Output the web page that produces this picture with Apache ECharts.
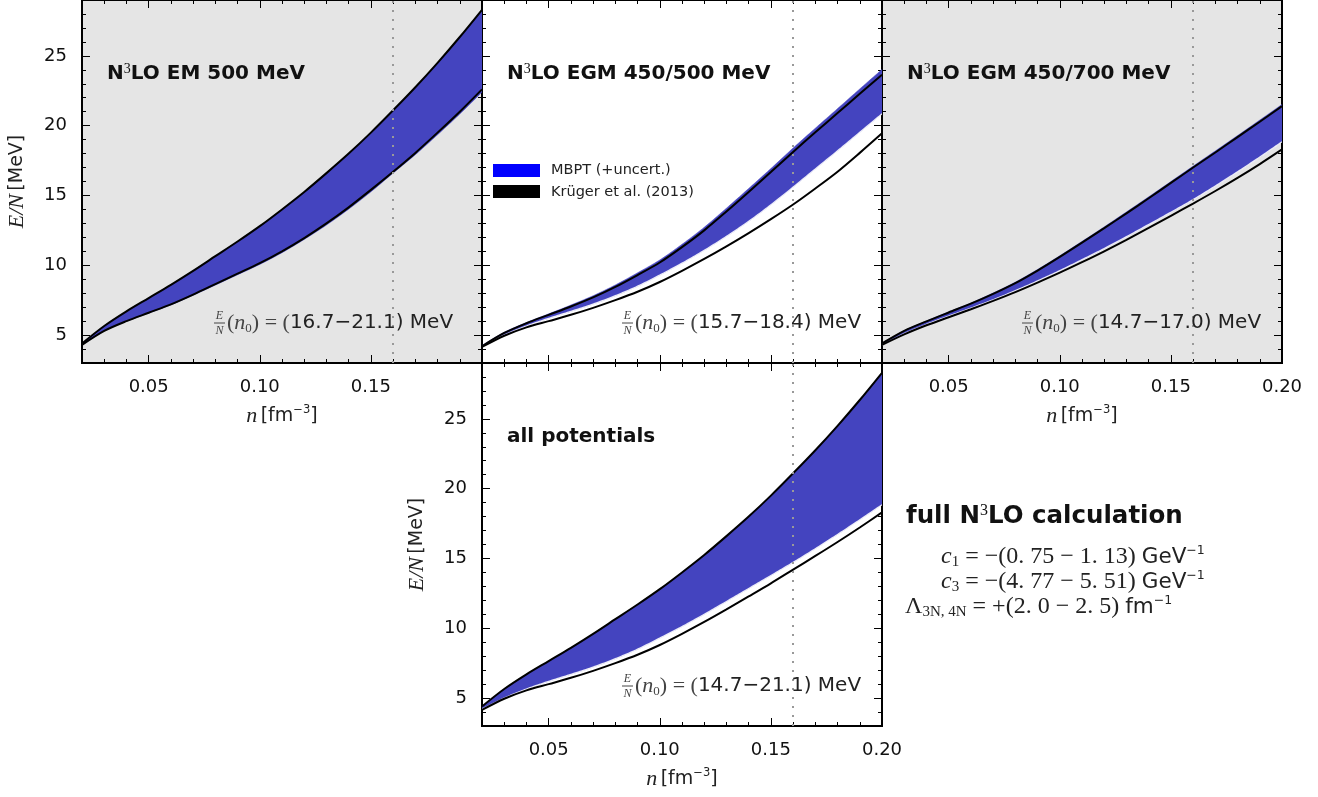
<!DOCTYPE html>
<html><head><meta charset="utf-8">
<script src="https://cdn.jsdelivr.net/npm/echarts@6/dist/echarts.min.js"></script>
<style>html,body{margin:0;padding:0;background:#fff}#c{width:1318px;height:797px}</style>
</head><body><div id="c"></div>
<script>
// ---------------- data ----------------
const density = [0.02,0.03,0.04,0.05,0.06,0.07,0.08,0.09,0.10,0.11,0.12,0.13,0.14,0.15,0.16,0.17,0.18,0.19,0.20];

// N3LO EM 500 MeV
const em500_kUp    = [4.4,5.65,6.7,7.65,8.6,9.6,10.65,11.7,12.8,14.0,15.25,16.6,18.0,19.5,21.1,22.75,24.5,26.35,28.3];
const em500_kLow   = [4.3,5.3,6.0,6.6,7.2,7.9,8.65,9.4,10.15,11.0,11.95,13.0,14.15,15.4,16.7,18.05,19.5,21.0,22.6];
const em500_mbUp   = [4.4,5.65,6.7,7.65,8.6,9.6,10.65,11.7,12.8,14.0,15.25,16.6,18.0,19.5,21.1,22.75,24.5,26.35,28.3];
const em500_mbLow  = [4.3,5.3,5.98,6.57,7.16,7.85,8.58,9.32,10.06,10.9,11.85,12.88,14.02,15.26,16.6,17.92,19.35,20.83,22.4];

// N3LO EGM 450/500 MeV
const egm500_kUp   = [4.2,5.15,5.85,6.45,7.05,7.7,8.45,9.3,10.2,11.3,12.5,13.85,15.25,16.68,18.12,19.52,20.9,22.28,23.65];
const egm500_kLow  = [4.15,4.95,5.55,6.0,6.45,6.95,7.5,8.1,8.8,9.6,10.45,11.35,12.3,13.3,14.35,15.5,16.7,18.05,19.45];
const egm500_mbUp  = [4.25,5.2,5.9,6.52,7.15,7.82,8.59,9.46,10.38,11.5,12.72,14.09,15.5,16.93,18.4,19.82,21.22,22.63,24.03];
const egm500_mbLow = [4.2,5.0,5.65,6.2,6.7,7.22,7.82,8.5,9.3,10.15,11.07,12.07,13.15,14.33,15.6,16.9,18.2,19.52,20.85];

// N3LO EGM 450/700 MeV
const egm700_kUp   = [4.4,5.3,5.98,6.62,7.25,7.95,8.72,9.62,10.6,11.62,12.66,13.72,14.8,15.9,17.0,18.08,19.18,20.28,21.4];
const egm700_kLow  = [4.3,5.05,5.7,6.28,6.85,7.45,8.08,8.76,9.47,10.22,11.0,11.82,12.67,13.54,14.42,15.32,16.26,17.25,18.3];
const egm700_mbUp  = [4.4,5.32,6.01,6.66,7.3,8.01,8.79,9.7,10.68,11.71,12.75,13.82,14.9,16.0,17.1,18.19,19.29,20.4,21.52];
const egm700_mbLow = [4.3,5.1,5.77,6.36,6.93,7.53,8.18,8.88,9.62,10.4,11.2,12.05,12.92,13.8,14.7,15.68,16.7,17.75,18.85];

// all potentials
const all_kUp      = [4.4,5.65,6.7,7.65,8.6,9.6,10.65,11.7,12.8,14.0,15.25,16.6,18.0,19.5,21.1,22.75,24.5,26.35,28.3];
const all_kLow     = [4.15,4.95,5.55,6.0,6.45,6.95,7.5,8.1,8.8,9.6,10.45,11.35,12.28,13.22,14.2,15.18,16.18,17.22,18.3];
const all_mbUp     = [4.4,5.65,6.7,7.65,8.6,9.6,10.65,11.7,12.8,14.0,15.25,16.6,18.0,19.5,21.1,22.75,24.5,26.35,28.3];
const all_mbLow    = [4.2,5.0,5.65,6.2,6.7,7.22,7.82,8.5,9.3,10.12,11.0,11.92,12.85,13.78,14.72,15.7,16.72,17.77,18.85];

const saturationDensity = 0.16;
const xMajorTicks = [0.05,0.10,0.15,0.20];
const xMinorTicks = [0.03,0.04,0.06,0.07,0.08,0.09,0.11,0.12,0.13,0.14,0.16,0.17,0.18,0.19];
const yMajorTicks = [5,10,15,20,25];
const yMinorTicks = [4,6,7,8,9,11,12,13,14,16,17,18,19,21,22,23,24,26,27,28];

const panelTitles = ['N|3|LO EM 500 MeV','N|3|LO EGM 450/500 MeV','N|3|LO EGM 450/700 MeV','all potentials'];
const panelRanges = ['16.7\u221221.1','15.7\u221218.4','14.7\u221217.0','14.7\u221221.1'];
const legendNames = ['MBPT (+uncert.)','Kr\u00fcger et al. (2013)'];

// ---------------- layout ----------------
const BAND = '#4444bf';
const SMOOTH = 0.3;
const panels = [
  {left:82,  top:0,   bg:'#e5e5e5', xLab:[0.05,0.10,0.15], yLab:true,  xName:true,  yName:true,
   kUp:em500_kUp, kLow:em500_kLow, mbUp:em500_mbUp, mbLow:em500_mbLow, edge:false},
  {left:482, top:0,   bg:null,      xLab:null,              yLab:false, xName:false, yName:false,
   kUp:egm500_kUp, kLow:egm500_kLow, mbUp:egm500_mbUp, mbLow:egm500_mbLow, edge:true},
  {left:882, top:0,   bg:'#e5e5e5', xLab:[0.05,0.10,0.15,0.20], yLab:false, xName:true, yName:false,
   kUp:egm700_kUp, kLow:egm700_kLow, mbUp:egm700_mbUp, mbLow:egm700_mbLow, edge:true},
  {left:482, top:363, bg:null,      xLab:[0.05,0.10,0.15,0.20], yLab:true, xName:true, yName:true,
   kUp:all_kUp, kLow:all_kLow, mbUp:all_mbUp, mbLow:all_mbLow, edge:true}
];
const W = 400, H = 363;
const SANS = 'DejaVu Sans', SERIF = 'Liberation Serif';

const grids = [], xAxes = [], yAxes = [], series = [], graphics = [];

// same cubic smoothing scheme as the line series, sampled to pixel points
function smoothPath(pts, s) {
  const n = pts.length, cpOut = [], cpIn = [];
  for (let i = 0; i < n; i++) {
    const p = pts[i], prev = pts[Math.max(i-1,0)], next = pts[Math.min(i+1,n-1)];
    if (i === 0 || i === n-1) { cpOut.push(p); cpIn.push(p); continue; }
    const vx = next[0]-prev[0], vy = next[1]-prev[1];
    const lp = Math.hypot(p[0]-prev[0], p[1]-prev[1]), ln = Math.hypot(next[0]-p[0], next[1]-p[1]);
    const r = (lp+ln) > 0 ? ln/(lp+ln) : 0.5;
    cpOut.push([p[0]+vx*s*r, p[1]+vy*s*r]);
    cpIn.push([p[0]-vx*s*(1-r), p[1]-vy*s*(1-r)]);
  }
  const out = [pts[0]];
  for (let i = 0; i < n-1; i++) {
    const a = pts[i], c1 = cpOut[i], c2 = cpIn[i+1], b = pts[i+1];
    for (let k = 1; k <= 12; k++) {
      const t = k/12, u = 1-t;
      out.push([u*u*u*a[0]+3*u*u*t*c1[0]+3*u*t*t*c2[0]+t*t*t*b[0],
                u*u*u*a[1]+3*u*u*t*c1[1]+3*u*t*t*c2[1]+t*t*t*b[1]]);
    }
  }
  return out;
}

function xAxis(gi, pos, ticks, len, labels, withName) {
  const a = {type:'value', gridIndex:gi, min:0.02, max:0.20, position:pos,
    axisLine:{show:false}, splitLine:{show:false},
    axisTick:{show:true, inside:true, length:len, customValues:ticks, lineStyle:{color:'#000', width:1}},
    axisLabel: labels ? {show:true, customValues:labels, formatter:v=>v.toFixed(2), margin:15,
      fontSize:18, fontFamily:SANS, color:'#111'} : {show:false}};
  if (withName) {
    a.name = '{i|n} {t|[fm}{s|\u22123}{t|]}';
    a.nameLocation = 'middle'; a.nameGap = 41;
    a.nameTextStyle = {rich:{
      i:{fontFamily:SERIF, fontStyle:'italic', fontSize:22, color:'#222', lineHeight:24},
      t:{fontFamily:SANS, fontSize:19, color:'#222', lineHeight:24},
      s:{fontFamily:SANS, fontSize:11.5, color:'#222', verticalAlign:'top', lineHeight:12}}};
  }
  return a;
}
function yAxis(gi, pos, ticks, len, labels, withName) {
  const a = {type:'value', gridIndex:gi, min:3, max:29, position:pos,
    axisLine:{show:false}, splitLine:{show:false},
    axisTick:{show:true, inside:true, length:len, customValues:ticks, lineStyle:{color:'#000', width:1}},
    axisLabel: labels ? {show:true, customValues:labels, margin:15,
      fontSize:18, fontFamily:SANS, color:'#111'} : {show:false}};
  if (withName) {
    a.name = '{i|E/N} {t|[MeV]}';
    a.nameLocation = 'middle'; a.nameGap = 54;
    a.nameTextStyle = {rich:{
      i:{fontFamily:SERIF, fontStyle:'italic', fontSize:22, color:'#222'},
      t:{fontFamily:SANS, fontSize:19, color:'#222'}}};
  }
  return a;
}

panels.forEach((p, gi) => {
  grids.push({left:p.left, top:p.top, width:W, height:H, show:true,
    backgroundColor: p.bg || '#ffffff', borderColor:'#000', borderWidth:2, containLabel:false});
  const xi = xAxes.length, yi = yAxes.length;
  xAxes.push(xAxis(gi,'bottom',xMajorTicks,8,p.xLab,p.xName));
  xAxes.push(xAxis(gi,'bottom',xMinorTicks,4,null,false));
  xAxes.push(xAxis(gi,'top',xMajorTicks,8,null,false));
  xAxes.push(xAxis(gi,'top',xMinorTicks,4,null,false));
  yAxes.push(yAxis(gi,'left',yMajorTicks,8,p.yLab?yMajorTicks:null,p.yName));
  yAxes.push(yAxis(gi,'left',yMinorTicks,4,null,false));
  yAxes.push(yAxis(gi,'right',yMajorTicks,8,null,false));
  yAxes.push(yAxis(gi,'right',yMinorTicks,4,null,false));

  // MBPT uncertainty band (filled between its lower and upper edges)
  series.push({type:'custom', name:legendNames[0], coordinateSystem:'cartesian2d',
    xAxisIndex:xi, yAxisIndex:yi, clip:true, silent:true, z:1,
    data:[[0.11, 15]],
    renderItem:(params, api) => {
      const up = smoothPath(p.mbUp.map((v,i)=>api.coord([density[i], v])), SMOOTH);
      const lo = smoothPath(p.mbLow.map((v,i)=>api.coord([density[i], v])), SMOOTH);
      const children = [{type:'polygon', shape:{points: up.concat(lo.slice().reverse())},
        style:{fill:BAND, stroke:BAND, lineWidth:0.5}}];
      if (p.edge) children.push({type:'polyline', shape:{points: lo},
        style:{stroke:'rgba(255,255,255,0.85)', lineWidth:1.3, fill:null}});
      return {type:'group', children};
    }});
  // Krüger et al. (2013) band limits
  series.push({type:'line', name:legendNames[1], xAxisIndex:xi, yAxisIndex:yi,
    data:density.map((x,i)=>[x,p.kUp[i]]), symbol:'none', smooth:SMOOTH, silent:true, z:3,
    lineStyle:{color:'#000', width:2}});
  series.push({type:'line', name:legendNames[1], xAxisIndex:xi, yAxisIndex:yi,
    data:density.map((x,i)=>[x,p.kLow[i]]), symbol:'none', smooth:SMOOTH, silent:true, z:3,
    lineStyle:{color:'#000', width:2},
    markLine:{silent:true, symbol:['none','none'], label:{show:false},
      lineStyle:{color:'#999', type:[2,7], width:2}, data:[{xAxis:saturationDensity}]}});

  // panel title
  const parts = panelTitles[gi].split('|');
  const titleText = parts.length === 3 ? '{b|'+parts[0]+'}{s|'+parts[1]+'}{b|'+parts[2]+'}' : '{b|'+parts[0]+'}';
  graphics.push({type:'text', x:p.left+25, y:p.top+74, z:10, silent:true,
    style:{text:titleText, align:'left', verticalAlign:'middle',
      rich:{b:{fontFamily:SANS, fontWeight:'bold', fontSize:20, fill:'#111', lineHeight:24},
            s:{fontFamily:SERIF, fontSize:14, fill:'#111', verticalAlign:'top', lineHeight:14}}}});

  // E/N(n0) annotation
  const ax = p.left + (gi===0 ? 132 : 140), ay = p.top + 323;
  graphics.push({type:'text', x:ax+5.5, y:ay-7, z:10, silent:true,
    style:{text:'E', align:'center', verticalAlign:'middle', fontFamily:SERIF, fontStyle:'italic', fontSize:12, fill:'#444'}});
  graphics.push({type:'line', z:10, silent:true, shape:{x1:ax, y1:ay, x2:ax+11, y2:ay}, style:{stroke:'#444', lineWidth:1}});
  graphics.push({type:'text', x:ax+5.5, y:ay+8, z:10, silent:true,
    style:{text:'N', align:'center', verticalAlign:'middle', fontFamily:SERIF, fontStyle:'italic', fontSize:12, fill:'#444'}});
  graphics.push({type:'text', x:ax+13, y:ay, z:10, silent:true,
    style:{text:'{m|(}{mi|n}{sub|0}{m|) = (}{t|'+panelRanges[gi]+') MeV}', align:'left', verticalAlign:'middle',
      rich:{m:{fontFamily:SERIF, fontSize:22, fill:'#444', lineHeight:24},
            mi:{fontFamily:SERIF, fontStyle:'italic', fontSize:22, fill:'#444', lineHeight:24},
            sub:{fontFamily:SERIF, fontSize:13, fill:'#444', verticalAlign:'bottom', lineHeight:16},
            t:{fontFamily:SANS, fontSize:20, fill:'#222', lineHeight:24}}}});
});

// legend (panel 2)
graphics.push({type:'rect', z:10, silent:true, shape:{x:493, y:164, width:47, height:13}, style:{fill:'#0000ff'}});
graphics.push({type:'rect', z:10, silent:true, shape:{x:493, y:185, width:47, height:13}, style:{fill:'#000000'}});
graphics.push({type:'text', x:551, y:170.5, z:10, silent:true, style:{text:legendNames[0], align:'left', verticalAlign:'middle', fontFamily:SANS, fontSize:14.5, fill:'#222'}});
graphics.push({type:'text', x:551, y:192, z:10, silent:true, style:{text:legendNames[1], align:'left', verticalAlign:'middle', fontFamily:SANS, fontSize:14.5, fill:'#222'}});

// right-hand text block
graphics.push({type:'text', x:906, y:517, z:10, silent:true,
  style:{text:'{b|full N}{s|3}{b|LO calculation}', align:'left', verticalAlign:'middle',
    rich:{b:{fontFamily:SANS, fontWeight:'bold', fontSize:24.5, fill:'#111', lineHeight:28},
          s:{fontFamily:SERIF, fontSize:16, fill:'#111', verticalAlign:'top', lineHeight:16}}}});
const mathRich = {
  m:{fontFamily:SERIF, fontSize:24, fill:'#222', lineHeight:25},
  mi:{fontFamily:SERIF, fontStyle:'italic', fontSize:24, fill:'#222', lineHeight:25},
  sub:{fontFamily:SERIF, fontSize:15, fill:'#222', verticalAlign:'bottom', lineHeight:17},
  t:{fontFamily:SANS, fontSize:21.5, fill:'#222', lineHeight:25},
  sup:{fontFamily:SANS, fontSize:12.5, fill:'#222', verticalAlign:'top', lineHeight:12}
};
graphics.push({type:'text', x:941, y:557, z:10, silent:true,
  style:{text:'{mi|c}{sub|1}{m| = \u2212(0. 75 \u2212 1. 13) }{t|GeV}{sup|\u22121}', align:'left', verticalAlign:'middle', rich:mathRich}});
graphics.push({type:'text', x:941, y:582, z:10, silent:true,
  style:{text:'{mi|c}{sub|3}{m| = \u2212(4. 77 \u2212 5. 51) }{t|GeV}{sup|\u22121}', align:'left', verticalAlign:'middle', rich:mathRich}});
graphics.push({type:'text', x:905, y:607, z:10, silent:true,
  style:{text:'{m|\u039b}{sub|3N, 4N}{m| = +(2. 0 \u2212 2. 5) }{t|fm}{sup|\u22121}', align:'left', verticalAlign:'middle', rich:mathRich}});

const chart = echarts.init(document.getElementById('c'), null, {renderer:'canvas'});
chart.setOption({
  animation:false,
  backgroundColor:'#ffffff',
  grid:grids, xAxis:xAxes, yAxis:yAxes, series:series, graphic:graphics
});
</script></body></html>
